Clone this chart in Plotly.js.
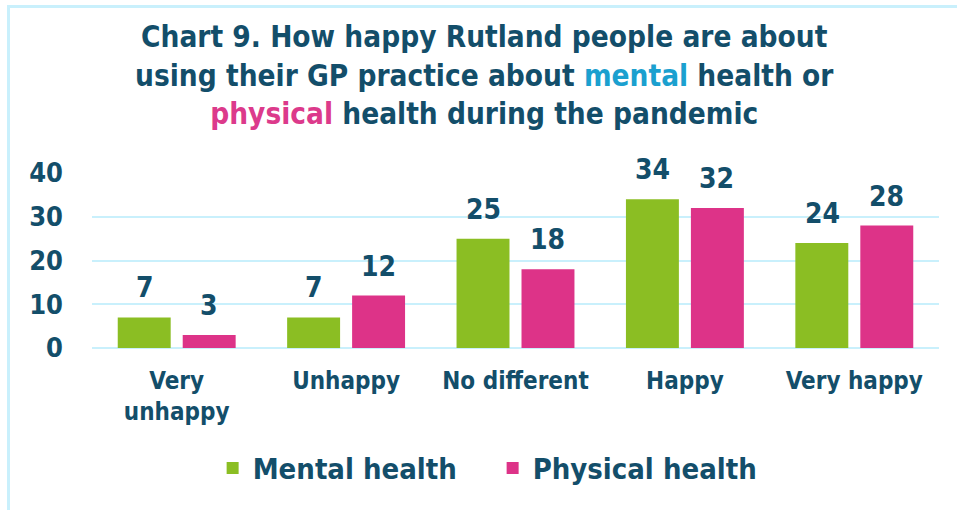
<!DOCTYPE html>
<html>
<head>
<meta charset="utf-8">
<script src="https://cdn.plot.ly/plotly-3.0.1.min.js"></script>
<style>
  html, body { margin: 0; padding: 0; background: #fff; }
  #wrap { position: relative; width: 957px; height: 510px; overflow: hidden; }
  #frame { position: absolute; left: 7px; top: 5px; width: 960px; height: 520px;
           border-left: 3px solid #c9f0fc; border-top: 3px solid #c9f0fc; box-sizing: border-box; }
  #chart { position: absolute; left: 0; top: 0; width: 957px; height: 510px; }
</style>
</head>
<body>
<div id="wrap">
  <div id="frame"></div>
  <div id="chart"></div>
</div>
<script>
const categories = ["Very<br>unhappy", "Unhappy", "No different", "Happy", "Very happy"];
const mentalHealth = [7, 7, 25, 34, 24];
const physicalHealth = [3, 12, 18, 32, 28];
const yTicks = [0, 10, 20, 30, 40];

const FONT = "'DejaVu Sans Condensed', 'DejaVu Sans', sans-serif";
const DARK = "#134e6a";

const traces = [
  { type: "bar", name: "Mental health", x: categories, y: mentalHealth,
    marker: { color: "#8bbe23" }, hoverinfo: "none" },
  { type: "bar", name: "Physical health", x: categories, y: physicalHealth,
    marker: { color: "#dd3388" }, hoverinfo: "none" }
];

const annotations = [];
[mentalHealth, physicalHealth].forEach((vals, ti) => {
  vals.forEach((v, i) => {
    annotations.push({
      x: categories[i], y: v, xref: "x", yref: "y",
      text: String(v), showarrow: false,
      xshift: ti === 0 ? -32 : 32, yanchor: "bottom", yshift: 11,
      font: { family: FONT, size: 28, color: DARK, weight: "bold" }
    });
  });
});

const layout = {
  width: 957, height: 510,
  paper_bgcolor: "rgba(0,0,0,0)", plot_bgcolor: "rgba(0,0,0,0)",
  margin: { l: 92, r: 18, t: 173, b: 162 },
  title: {
    text: "Chart 9. How happy Rutland people are about<br>using their GP practice about <span style='color:#1ba0cf'>mental</span> health or<br><span style='color:#dc3a8b'>physical</span> health during the pandemic",
    font: { family: FONT, size: 29.5, color: DARK, weight: "bold" },
    x: 0.506, xanchor: "center", y: 0.907, yanchor: "top", yref: "container"
  },
  barmode: "group", bargap: 0.233, bargroupgap: 0.185,
  xaxis: {
    type: "category", showgrid: false, zeroline: false, showline: false,
    ticks: "", ticklabelstandoff: 16,
    tickfont: { family: FONT, size: 24, color: DARK, weight: "bold" }
  },
  yaxis: {
    range: [0, 40], tickvals: yTicks, ticktext: yTicks.map(String),
    showgrid: true, gridcolor: "#c9f0fc", gridwidth: 2,
    zeroline: true, zerolinecolor: "#c9f0fc", zerolinewidth: 2,
    showline: false, ticks: "", ticklabelstandoff: 28,
    tickfont: { family: FONT, size: 27, color: DARK, weight: "bold" }
  },
  showlegend: true,
  legend: {
    orientation: "h", x: 0.473, xanchor: "center", y: -0.686, yanchor: "middle",
    font: { family: FONT, size: 29, color: DARK, weight: "bold" }, itemwidth: 30,
    entrywidth: 235, traceorder: "normal"
  },
  annotations: annotations
};

Plotly.newPlot("chart", traces, layout, { displayModeBar: false, staticPlot: true });
</script>
</body>
</html>
